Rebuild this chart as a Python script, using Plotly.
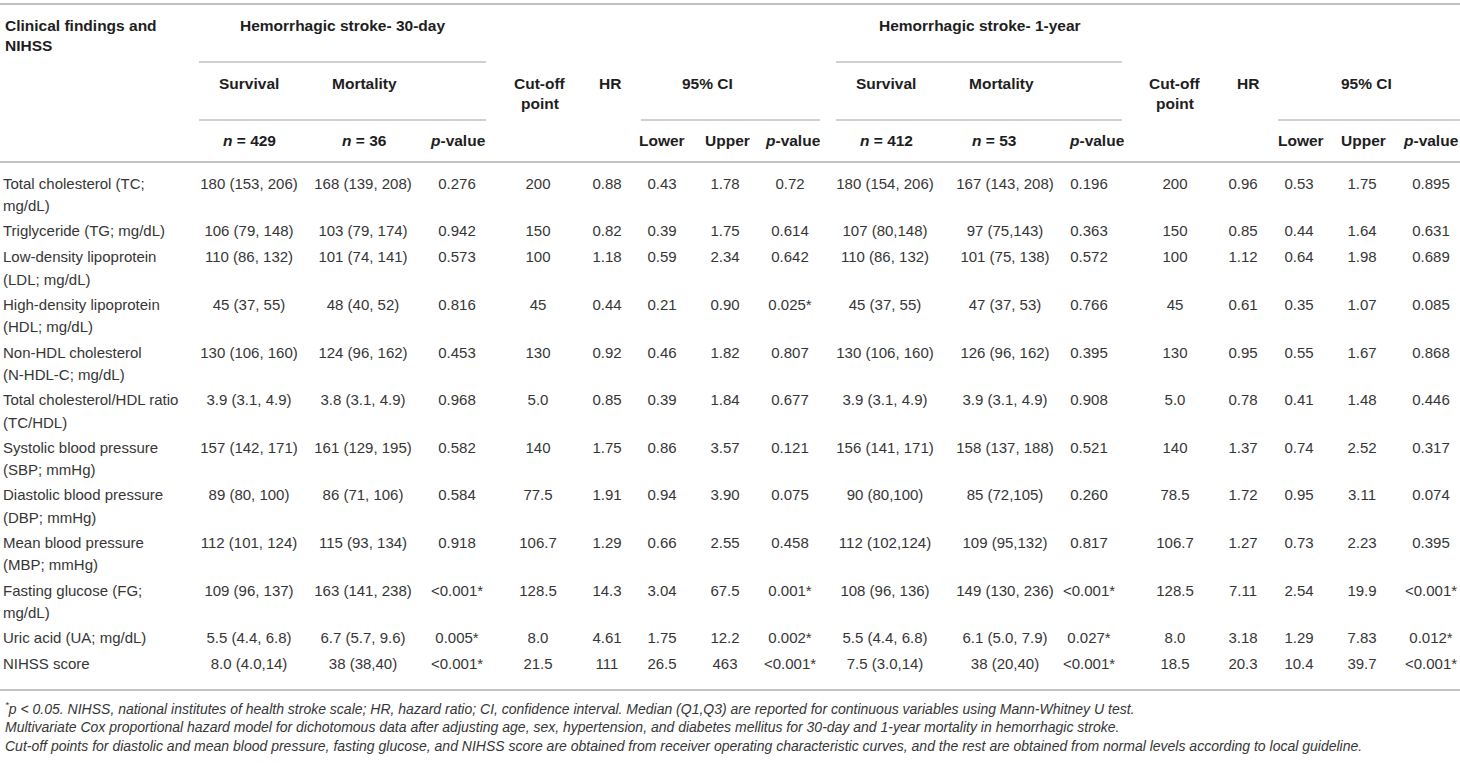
import plotly.graph_objects as go

# Row labels (line breaks as in the printed table)
labels = [
    "Total cholesterol (TC;<br>mg/dL)",
    "Triglyceride (TG; mg/dL)",
    "Low-density lipoprotein<br>(LDL; mg/dL)",
    "High-density lipoprotein<br>(HDL; mg/dL)",
    "Non-HDL cholesterol<br>(N-HDL-C; mg/dL)",
    "Total cholesterol/HDL ratio<br>(TC/HDL)",
    "Systolic blood pressure<br>(SBP; mmHg)",
    "Diastolic blood pressure<br>(DBP; mmHg)",
    "Mean blood pressure<br>(MBP; mmHg)",
    "Fasting glucose (FG;<br>mg/dL)",
    "Uric acid (UA; mg/dL)",
    "NIHSS score",
]

# Hemorrhagic stroke - 30-day
survival_30 = ["180 (153, 206)", "106 (79, 148)", "110 (86, 132)", "45 (37, 55)", "130 (106, 160)",
               "3.9 (3.1, 4.9)", "157 (142, 171)", "89 (80, 100)", "112 (101, 124)", "109 (96, 137)",
               "5.5 (4.4, 6.8)", "8.0 (4.0,14)"]
mortality_30 = ["168 (139, 208)", "103 (79, 174)", "101 (74, 141)", "48 (40, 52)", "124 (96, 162)",
                "3.8 (3.1, 4.9)", "161 (129, 195)", "86 (71, 106)", "115 (93, 134)", "163 (141, 238)",
                "6.7 (5.7, 9.6)", "38 (38,40)"]
p_30 = ["0.276", "0.942", "0.573", "0.816", "0.453", "0.968", "0.582", "0.584", "0.918",
        "<0.001*", "0.005*", "<0.001*"]
cutoff_30 = ["200", "150", "100", "45", "130", "5.0", "140", "77.5", "106.7", "128.5", "8.0", "21.5"]
hr_30 = ["0.88", "0.82", "1.18", "0.44", "0.92", "0.85", "1.75", "1.91", "1.29", "14.3", "4.61", "111"]
lower_30 = ["0.43", "0.39", "0.59", "0.21", "0.46", "0.39", "0.86", "0.94", "0.66", "3.04", "1.75", "26.5"]
upper_30 = ["1.78", "1.75", "2.34", "0.90", "1.82", "1.84", "3.57", "3.90", "2.55", "67.5", "12.2", "463"]
pci_30 = ["0.72", "0.614", "0.642", "0.025*", "0.807", "0.677", "0.121", "0.075", "0.458",
          "0.001*", "0.002*", "<0.001*"]

# Hemorrhagic stroke - 1-year
survival_1y = ["180 (154, 206)", "107 (80,148)", "110 (86, 132)", "45 (37, 55)", "130 (106, 160)",
               "3.9 (3.1, 4.9)", "156 (141, 171)", "90 (80,100)", "112 (102,124)", "108 (96, 136)",
               "5.5 (4.4, 6.8)", "7.5 (3.0,14)"]
mortality_1y = ["167 (143, 208)", "97 (75,143)", "101 (75, 138)", "47 (37, 53)", "126 (96, 162)",
                "3.9 (3.1, 4.9)", "158 (137, 188)", "85 (72,105)", "109 (95,132)", "149 (130, 236)",
                "6.1 (5.0, 7.9)", "38 (20,40)"]
p_1y = ["0.196", "0.363", "0.572", "0.766", "0.395", "0.908", "0.521", "0.260", "0.817",
        "<0.001*", "0.027*", "<0.001*"]
cutoff_1y = ["200", "150", "100", "45", "130", "5.0", "140", "78.5", "106.7", "128.5", "8.0", "18.5"]
hr_1y = ["0.96", "0.85", "1.12", "0.61", "0.95", "0.78", "1.37", "1.72", "1.27", "7.11", "3.18", "20.3"]
lower_1y = ["0.53", "0.44", "0.64", "0.35", "0.55", "0.41", "0.74", "0.95", "0.73", "2.54", "1.29", "10.4"]
upper_1y = ["1.75", "1.64", "1.98", "1.07", "1.67", "1.48", "2.52", "3.11", "2.23", "19.9", "7.83", "39.7"]
pci_1y = ["0.895", "0.631", "0.689", "0.085", "0.868", "0.446", "0.317", "0.074", "0.395",
          "<0.001*", "0.012*", "<0.001*"]

footnotes = [
    "<sup>*</sup>p &lt; 0.05. NIHSS, national institutes of health stroke scale; HR, hazard ratio; CI, confidence interval. "
    "Median (Q1,Q3) are reported for continuous variables using Mann-Whitney U test.",
    "Multivariate Cox proportional hazard model for dichotomous data after adjusting age, sex, hypertension, "
    "and diabetes mellitus for 30-day and 1-year mortality in hemorrhagic stroke.",
    "Cut-off points for diastolic and mean blood pressure, fasting glucose, and NIHSS score are obtained from "
    "receiver operating characteristic curves, and the rest are obtained from normal levels according to local guideline.",
]

W, H = 1460, 763
TXT = "#363636"
HDR = "#1e1e1e"
RULE = "#c2c2c2"
FONT = "Liberation Sans, Arial, sans-serif"

# column centres (pixels)
columns = [
    (survival_30, 249), (mortality_30, 363), (p_30, 457), (cutoff_30, 538), (hr_30, 607),
    (lower_30, 662), (upper_30, 725), (pci_30, 790),
    (survival_1y, 885), (mortality_1y, 1005), (p_1y, 1089), (cutoff_1y, 1175), (hr_1y, 1243),
    (lower_1y, 1299), (upper_1y, 1362), (pci_1y, 1431),
]

# row positions from the number of lines in each label
row_y = []
y = 185
for lab in labels:
    row_y.append(y)
    y += 47.6 if "<br>" in lab else 26

fig = go.Figure()

first_lines = [l.split("<br>")[0] for l in labels]
second = [(l.split("<br>")[1], yy + 22.5) for l, yy in zip(labels, row_y) if "<br>" in l]

fig.add_trace(go.Scatter(x=[3] * len(labels), y=row_y, text=first_lines, mode="text",
                         textposition="middle right", cliponaxis=False, hoverinfo="skip",
                         textfont=dict(family=FONT, size=15, color=TXT)))
fig.add_trace(go.Scatter(x=[3] * len(second), y=[s[1] for s in second], text=[s[0] for s in second],
                         mode="text", textposition="middle right", cliponaxis=False, hoverinfo="skip",
                         textfont=dict(family=FONT, size=15, color=TXT)))

for vals, cx in columns:
    fig.add_trace(go.Scatter(x=[cx] * len(vals), y=row_y,
                             text=[v.replace("<", "&lt;") for v in vals],
                             mode="text", textposition="middle center", cliponaxis=False,
                             hoverinfo="skip", textfont=dict(family=FONT, size=15, color=TXT)))

# header texts
hdr = [
    ("Clinical findings and", 3, 25, "left"),
    ("NIHSS", 3, 45, "left"),
    ("Hemorrhagic stroke- 30-day", 342, 25, "center"),
    ("Hemorrhagic stroke- 1-year", 980, 25, "center"),
    ("Survival", 249, 83, "center"), ("Mortality", 364, 83, "center"),
    ("Cut-off", 540, 83, "center"), ("point", 540, 103, "center"),
    ("HR", 610, 83, "center"), ("95% CI", 707, 83, "center"),
    ("Survival", 886, 83, "center"), ("Mortality", 1001, 83, "center"),
    ("Cut-off", 1175, 83, "center"), ("point", 1175, 103, "center"),
    ("HR", 1248, 83, "center"), ("95% CI", 1366, 83, "center"),
    ("<i>n</i> = 429", 249, 140, "center"), ("<i>n</i> = 36", 364, 140, "center"),
    ("<i>p</i>-value", 458, 140, "center"),
    ("Lower", 662, 140, "center"), ("Upper", 727, 140, "center"), ("<i>p</i>-value", 793, 140, "center"),
    ("<i>n</i> = 412", 886, 140, "center"), ("<i>n</i> = 53", 994, 140, "center"),
    ("<i>p</i>-value", 1097, 140, "center"),
    ("Lower", 1301, 140, "center"), ("Upper", 1363, 140, "center"), ("<i>p</i>-value", 1431, 140, "center"),
]
for t, x, yy, anc in hdr:
    fig.add_annotation(x=x, y=yy, text="<b>" + t + "</b>", showarrow=False, xanchor=anc,
                       yanchor="middle", xref="x", yref="y",
                       font=dict(family=FONT, size=15.5, color=HDR))

for i, t in enumerate(footnotes):
    fig.add_annotation(x=3, y=708 + 19 * i, text="<i>" + t + "</i>", showarrow=False, xanchor="left",
                       yanchor="middle", xref="x", yref="y",
                       font=dict(family=FONT, size=14, color=TXT))

# rules
rules = [
    (0, W, 4, 2), (0, W, 162, 2), (0, W, 690, 2),
    (199, 486, 62, 1.5), (836, 1122, 62, 1.5),
    (199, 486, 120, 1.5), (641, 820, 120, 1.5), (836, 1122, 120, 1.5), (1278, W, 120, 1.5),
]
for x0, x1, yy, w in rules:
    fig.add_shape(type="line", x0=x0, x1=x1, y0=yy, y1=yy, xref="x", yref="y",
                  line=dict(color=RULE, width=w))

fig.update_layout(
    width=W, height=H, margin=dict(l=0, r=0, t=0, b=0),
    paper_bgcolor="white", plot_bgcolor="white", showlegend=False,
    xaxis=dict(range=[0, W], visible=False, fixedrange=True),
    yaxis=dict(range=[H, 0], visible=False, fixedrange=True),
)

fig.write_html("out.html", config={"displayModeBar": False},
               post_script="document.body.style.margin='0';")
